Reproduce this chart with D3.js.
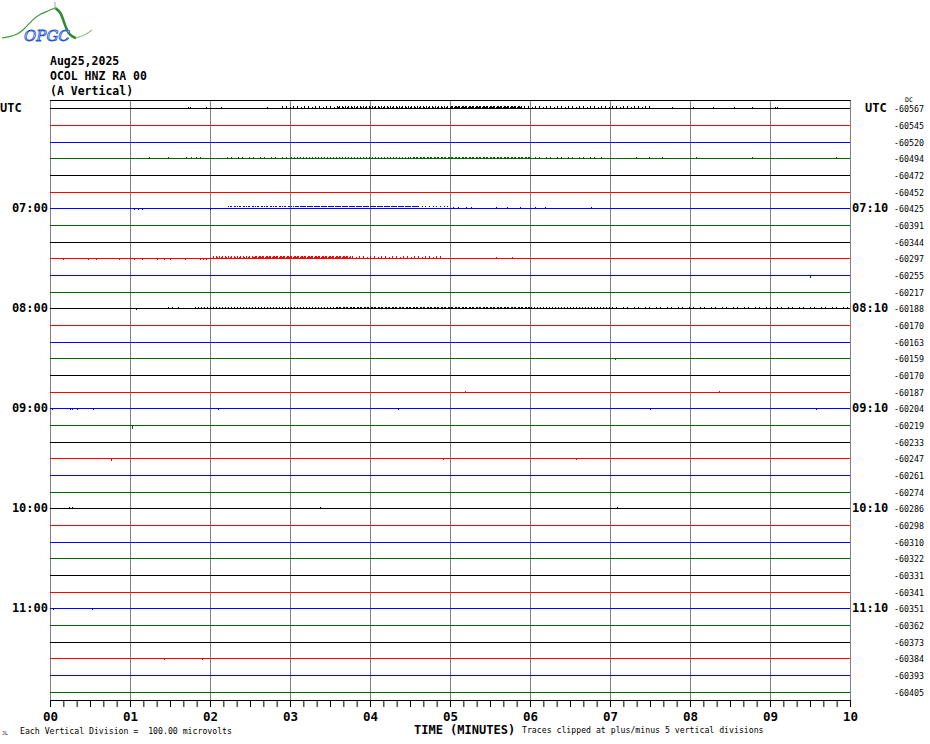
<!DOCTYPE html>
<html><head><meta charset="utf-8">
<script src="https://cdn.jsdelivr.net/npm/d3@7"></script>
<style>body{margin:0;background:#fff}svg{display:block}</style>
</head><body>
<svg id="c" width="930" height="744"></svg>
<script>
// ---------- data ----------
const headerLines = ["Aug25,2025", "OCOL HNZ RA 00", "(A Vertical)"];
const rowCount = 36;
const rowColors = ["#000000", "#ff0000", "#0000ff", "#006400"];
const leftHourLabels = [[6, "07:00"], [12, "08:00"], [18, "09:00"], [24, "10:00"], [30, "11:00"]];
const rightHourLabels = [[6, "07:10"], [12, "08:10"], [18, "09:10"], [24, "10:10"], [30, "11:10"]];
const dcOffsets = [-60567, -60545, -60520, -60494, -60472, -60452, -60425, -60391, -60344, -60297,
  -60255, -60217, -60188, -60170, -60163, -60159, -60170, -60187, -60204, -60219, -60233, -60247,
  -60261, -60274, -60286, -60298, -60310, -60322, -60331, -60341, -60351, -60362, -60373, -60384,
  -60393, -60405];
const minuteTicks = [0, 1, 2, 3, 4, 5, 6, 7, 8, 9, 10];
// noise bursts: [row, startMinute, endMinute, amplitude µV, density level 0..2]
const noiseBands = [
  [0, 2.9, 3.6, 12, 0], [0, 3.6, 5.0, 12, 1], [0, 5.0, 5.9, 12, 2], [0, 5.9, 7.5, 12, 0],
  [3, 2.17, 3.0, 12, 0], [3, 3.0, 4.5, 12, 1], [3, 4.5, 6.0, 12, 2], [3, 6.0, 6.9, 12, 0],
  [6, 2.23, 3.06, 12, 1], [6, 3.06, 4.6, 12, 2], [6, 4.6, 5.0, 12, 0],
  [9, 2.04, 2.55, 12, 1], [9, 2.55, 3.76, 12, 2], [9, 3.76, 4.91, 12, 0],
  [12, 1.79, 3.57, 12, 1], [12, 3.57, 6.0, 12, 2], [12, 6.0, 7.0, 12, 1], [12, 7.0, 10.0, 12, 0]
];
// isolated spikes: [row, minute, µV (+ up, - down)]
const spikes = [
  [0, 1.72, 8], [0, 1.75, 8], [0, 1.95, 8], [0, 2.14, 8], [0, 2.71, 8], [0, 7.78, 8], [0, 8.04, 8],
  [0, 8.29, 8], [0, 8.55, 8], [0, 8.77, 8], [0, 9.06, 8], [0, 9.09, 8],
  [3, 1.24, 8], [3, 1.47, 8], [3, 1.70, 8], [3, 1.76, 8], [3, 1.82, 8], [3, 1.88, 8], [3, 7.33, 8],
  [3, 7.49, 8], [3, 7.65, 8], [3, 8.07, 8], [3, 8.77, 8], [3, 9.82, 8],
  [6, 1.05, -8], [6, 1.10, -8], [6, 1.15, -8], [6, 2.0, -8], [6, 5.04, 8], [6, 5.10, 8], [6, 5.20, 8],
  [6, 5.26, 8], [6, 5.58, 8], [6, 5.71, 8], [6, 5.87, 8], [6, 6.06, 8], [6, 6.19, 8], [6, 6.76, 8],
  [9, 0.16, -8], [9, 0.48, -8], [9, 0.57, -8], [9, 0.86, -8], [9, 1.05, -8], [9, 1.15, -8], [9, 1.34, -8],
  [9, 1.43, -8], [9, 1.50, -8], [9, 1.69, -8], [9, 1.88, -8], [9, 1.91, -8], [9, 1.95, -8], [9, 5.58, 8], [9, 5.77, 8],
  [10, 9.5, -10],
  [12, 1.08, -8], [12, 1.47, 8], [12, 1.53, 8], [12, 1.60, 8],
  [15, 7.06, -8],
  [17, 5.19, 8], [17, 8.36, 8],
  [18, 0.03, -8], [18, 0.25, -8], [18, 0.28, -8], [18, 0.34, -8], [18, 0.54, -8], [18, 2.10, -8],
  [18, 4.35, -8], [18, 7.50, -8], [18, 9.58, -8],
  [19, 1.03, -16],
  [21, 0.76, -10], [21, 4.91, -8], [21, 6.58, -8],
  [24, 0.24, 8], [24, 0.28, 8], [24, 3.38, 8], [24, 7.09, 8],
  [30, 0.04, -8], [30, 0.53, -8],
  [33, 1.43, -8], [33, 1.90, -8]
];

// ---------- drawing ----------
const svg = d3.select("#c");
const x = d3.scaleLinear().domain([0, 10]).range([50, 850]);
const yRaw = d3.scaleLinear().domain([0, 35]).range([108.33, 691.67]);
const y = k => Math.round(yRaw(k)) + 0.5;
const amp = d3.scaleLinear().domain([0, 100]).range([0, 16.667]);
const mono = "'DejaVu Sans Mono', monospace";

// irregular stripe textures for dense noise (style only): [width, [[x, height]...]]
const stripeSets = [
  [11, [[0, 2], [4, 1], [7, 2]]],
  [9, [[0, 2], [1, 1], [3, 2], [5, 1], [6, 2]]],
  [7, [[0, 2], [1, 2], [2, 1], [3, 2], [4, 2], [6, 1]]]
];
const defs = svg.append("defs");
rowColors.forEach((c, ci) => {
  stripeSets.forEach((s, si) => {
    const p = defs.append("pattern").attr("id", `p${ci}_${si}`).attr("patternUnits", "userSpaceOnUse")
      .attr("width", s[0]).attr("height", 3);
    s[1].forEach(([sx, h]) => p.append("rect").attr("x", sx).attr("y", 3 - h).attr("width", 1)
      .attr("height", h).attr("fill", c));
  });
});

// logo
const logo = svg.append("g");
logo.append("path").attr("d", d3.line().curve(d3.curveBasis)([[2, 38], [14, 36], [23, 31], [32, 20], [40, 14], [48, 11], [55, 8]]))
  .attr("fill", "none").attr("stroke", "#3a9a3a").attr("stroke-width", 1.2);
logo.append("path").attr("d", d3.line().curve(d3.curveBasis)([[55, 8], [61, 12], [65, 26], [70, 36], [76, 38]]))
  .attr("fill", "none").attr("stroke", "#2e8b2e").attr("stroke-width", 2.6);
logo.append("path").attr("d", d3.line().curve(d3.curveBasis)([[76, 38], [84, 36], [92, 30]]))
  .attr("fill", "none").attr("stroke", "#8bc48b").attr("stroke-width", 1.2);
logo.append("line").attr("x1", 55).attr("x2", 55).attr("y1", 2).attr("y2", 9).attr("stroke", "#7bbf7b");
logo.append("text").attr("x", 24).attr("y", 41).text("OPGC")
  .attr("font-family", "'DejaVu Serif', serif").attr("font-style", "italic").attr("font-size", 15)
  .attr("fill", "#cfe0ff").attr("stroke", "#2255cc").attr("stroke-width", 0.8);

// header
svg.append("g").selectAll("text").data(headerLines).join("text")
  .attr("x", 50).attr("y", (d, i) => 65 + i * 15).text(d => d)
  .attr("font-family", mono).attr("font-weight", "bold").attr("font-size", 11.5);

// vertical grid
svg.append("g").selectAll("line").data(minuteTicks).join("line")
  .attr("x1", d => Math.round(x(d)) + 0.5).attr("x2", d => Math.round(x(d)) + 0.5)
  .attr("y1", 100).attr("y2", 700).attr("stroke", "#808080").attr("stroke-width", 1);

// top border
svg.append("line").attr("x1", 50).attr("x2", 850.5).attr("y1", 100.5).attr("y2", 100.5)
  .attr("stroke", "#000").attr("stroke-width", 1);

// trace baselines
const rows = d3.range(rowCount);
svg.append("g").selectAll("line").data(rows).join("line")
  .attr("x1", x(0)).attr("x2", x(10)).attr("y1", y).attr("y2", y)
  .attr("stroke", k => rowColors[k % 4]).attr("stroke-width", 1).attr("shape-rendering", "crispEdges");

// noise bands (textured)
svg.append("g").selectAll("rect").data(noiseBands).join("rect")
  .attr("x", d => Math.round(x(d[1]))).attr("width", d => Math.round(x(d[2]) - x(d[1])))
  .attr("y", d => Math.round(y(d[0]) - 0.5 - amp(d[3])))
  .attr("height", d => Math.round(amp(d[3])) + 1)
  .attr("fill", d => `url(#p${d[0] % 4}_${d[4]})`).attr("shape-rendering", "crispEdges");

// spikes
svg.append("g").selectAll("rect").data(spikes).join("rect")
  .attr("x", d => Math.round(x(d[1])))
  .attr("width", 1)
  .attr("y", d => d[2] > 0 ? Math.round(y(d[0]) - 0.5 - amp(d[2])) : y(d[0]) - 0.5)
  .attr("height", d => Math.round(amp(Math.abs(d[2]))) + 1)
  .attr("fill", d => rowColors[d[0] % 4]).attr("shape-rendering", "crispEdges");

// bottom axis
const minorTicks = d3.range(0, 61).map(i => i / 6);
const axMinor = d3.axisBottom(x).tickValues(minorTicks).tickSize(7).tickSizeOuter(0).tickFormat("");
const gMinor = svg.append("g").attr("transform", "translate(0,700)").call(axMinor);
gMinor.select(".domain").attr("stroke", "#000");
gMinor.selectAll(".tick line").attr("stroke", "#000");
const axMajor = d3.axisBottom(x).tickValues(minuteTicks).tickSize(0).tickPadding(12)
  .tickFormat(d3.format("02d"));
const gMajor = svg.append("g").attr("transform", "translate(0,700)").call(axMajor);
gMajor.select(".domain").remove();
gMajor.selectAll("text").attr("font-family", mono).attr("font-weight", "bold")
  .attr("font-size", 12.5).attr("fill", "#000");

// left / right hour labels
const lab = svg.append("g").attr("font-family", mono).attr("font-weight", "bold").attr("font-size", 12);
lab.append("text").attr("x", 0).attr("y", y(0) + 3.5).text("UTC");
lab.append("text").attr("x", 865).attr("y", y(0) + 3.5).text("UTC");
lab.selectAll(".l").data(leftHourLabels).join("text").attr("class", "l")
  .attr("x", 48).attr("y", d => y(d[0]) + 3.5).attr("text-anchor", "end").text(d => d[1]);
lab.selectAll(".r").data(rightHourLabels).join("text").attr("class", "r")
  .attr("x", 852).attr("y", d => y(d[0]) + 3.5).text(d => d[1]);

// DC offsets
svg.append("text").attr("x", 905).attr("y", 101.5).text("DC")
  .attr("font-family", mono).attr("font-size", 6.5);
svg.append("g").selectAll("text").data(dcOffsets).join("text")
  .attr("x", 924).attr("y", (d, i) => y(i) + 3).attr("text-anchor", "end")
  .text(d => d).attr("font-family", mono).attr("font-size", 8.3);

// footer
svg.append("text").attr("x", 414).attr("y", 733.5).text("TIME (MINUTES)")
  .attr("font-family", mono).attr("font-weight", "bold").attr("font-size", 12);
svg.append("text").attr("x", 522).attr("y", 733).text("Traces clipped at plus/minus 5 vertical divisions")
  .attr("font-family", mono).attr("font-size", 8.2);
svg.append("text").attr("x", 20).attr("y", 734).text("Each Vertical Division =  100.00 microvolts")
  .attr("font-family", mono).attr("font-size", 8.2).style("white-space", "pre");
svg.append("text").attr("x", 2).attr("y", 735).text("JL")
  .attr("font-family", mono).attr("font-size", 5);
</script>
</body></html>
